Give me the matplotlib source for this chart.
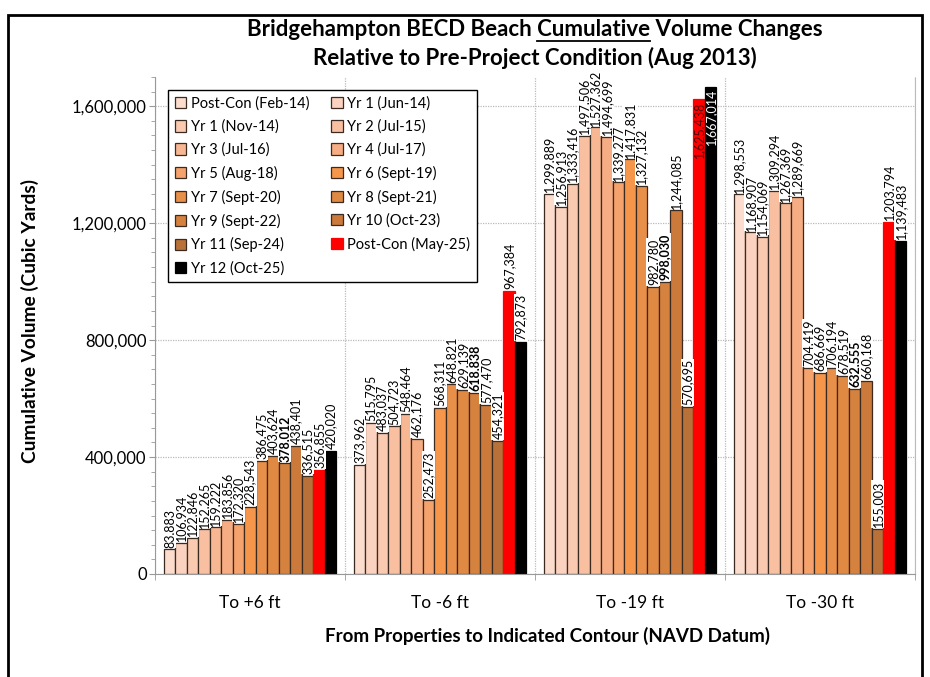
import numpy as np
import matplotlib.pyplot as plt
from matplotlib.patches import Rectangle
from matplotlib.ticker import FuncFormatter, MultipleLocator

plt.rcParams["font.family"] = ["Lato", "DejaVu Sans"]

groups = ["To +6 ft", "To -6 ft", "To -19 ft", "To -30 ft"]
surveys = [
    "Post-Con (Feb-14)", "Yr 1 (Jun-14)", "Yr 1 (Nov-14)", "Yr 2 (Jul-15)",
    "Yr 3 (Jul-16)", "Yr 4 (Jul-17)", "Yr 5 (Aug-18)", "Yr 6 (Sept-19)",
    "Yr 7 (Sept-20)", "Yr 8 (Sept-21)", "Yr 9 (Sept-22)", "Yr 10 (Oct-23)",
    "Yr 11 (Sep-24)", "Post-Con (May-25)", "Yr 12 (Oct-25)",
]
colors = [
    "#fbdccd", "#fad2bf", "#f9c9b0", "#f8c0a1", "#f7b793", "#f6ad83",
    "#f5a26c", "#f5964a", "#e88f49", "#e08943", "#d6823f", "#cb7a3b",
    "#b9713a", "#ff0000", "#000000",
]

to_plus6 = [83883, 106934, 122846, 152265, 159222, 183856, 172320, 228543,
            386475, 403624, 378012, 438401, 336515, 356855, 420020]
to_minus6 = [373962, 515795, 483037, 504723, 548464, 462176, 252473, 568311,
             648821, 629139, 618838, 577470, 454321, 967384, 792873]
to_minus19 = [1299889, 1256913, 1333416, 1497506, 1527362, 1494699, 1339277,
              1417831, 1327132, 982780, 998030, 1244085, 570695, 1625438,
              1667014]
to_minus30 = [1298553, 1168907, 1154069, 1309294, 1267369, 1289669, 704419,
              686669, 706194, 678519, 632555, 660168, 155003, 1203794,
              1139483]

values = np.array([to_plus6, to_minus6, to_minus19, to_minus30])
bold_series = 10

fig = plt.figure(figsize=(9.3, 6.77), dpi=100)
ax = fig.add_axes([155 / 930, 1 - 574 / 677, 760 / 930, 497 / 677])

n = len(surveys)
width = 0.91 / n
x = np.arange(len(groups))
handles = []
for i in range(n):
    pos = x - 0.455 + width * (i + 0.5)
    edge = "#3a2a20" if i < 13 else colors[i]
    bars = ax.bar(pos, values[:, i], width=width, color=colors[i],
                  edgecolor=edge, linewidth=0.9, label=surveys[i], zorder=2)
    handles.append(bars)
    for j, (px, v) in enumerate(zip(pos, values[:, i])):
        txt = f"{v:,}"
        weight = "bold" if i == bold_series else "normal"
        if v > 1_600_000:
            tc = "white" if i == 14 else "#5a0000"
            ax.text(px, v - 8000, txt, rotation=90, ha="center", va="top",
                    fontsize=9, color=tc, zorder=4)
        else:
            ax.text(px, v + 6000, txt, rotation=90, ha="center", va="bottom",
                    fontsize=9, fontweight=weight, zorder=4,
                    bbox=dict(boxstyle="square,pad=0.05", fc="white",
                              ec="none"))

ax.set_xlim(-0.5, 3.5)
ax.set_ylim(0, 1_700_000)
ax.set_xticks(x)
ax.set_xticklabels(groups, fontsize=12.5)
ax.set_xticks(np.arange(-0.5, 3.6, 1), minor=True)
ax.yaxis.set_major_locator(MultipleLocator(400_000))
ax.yaxis.set_minor_locator(MultipleLocator(50_000))
ax.yaxis.set_major_formatter(FuncFormatter(lambda v, p: f"{int(v):,}"))
ax.tick_params(axis="y", labelsize=12, length=4, color="#999999", pad=2)
ax.tick_params(axis="y", which="minor", length=3, color="#999999")
ax.tick_params(axis="x", length=0, pad=15)
ax.tick_params(axis="x", which="minor", length=4, color="#999999")

ax.grid(axis="y", which="major", linestyle=(0, (1, 1)), color="#bbbbbb",
        linewidth=0.9, zorder=0)
ax.grid(axis="x", which="minor", linestyle=(0, (1, 1)), color="#bbbbbb",
        linewidth=0.9, zorder=0)
ax.set_axisbelow(True)
ax.spines["top"].set_visible(False)
ax.spines["right"].set_color("#bbbbbb")
ax.spines["right"].set_linestyle((0, (1, 1)))
ax.spines["left"].set_color("#999999")
ax.spines["bottom"].set_color("#999999")

ax.set_ylabel("Cumulative Volume (Cubic Yards)", fontsize=13.8,
              fontweight="bold")
ax.yaxis.set_label_coords(-(155 - 39) / 760, 0.51)
ax.set_xlabel("From Properties to Indicated Contour (NAVD Datum)",
              fontsize=13.5, fontweight="bold")
ax.xaxis.set_label_coords((547 - 155) / 760, -(627 - 574) / 497)

order = list(range(0, n, 2)) + list(range(1, n, 2))
leg = ax.legend([handles[k] for k in order], [surveys[k] for k in order],
                ncol=2, loc="upper left",
                bbox_to_anchor=(168 / 930, 1 - 90 / 677),
                bbox_transform=fig.transFigure, fontsize=10.5,
                fancybox=False, framealpha=1, edgecolor="black",
                handlelength=0.8, handleheight=0.8, handletextpad=0.3,
                columnspacing=1.5, labelspacing=0.6, borderpad=0.45,
                borderaxespad=0)
leg.get_frame().set_linewidth(1.0)
leg.set_zorder(5)

# title with underlined word
title_size = 16
title_kw = dict(fontsize=title_size, fontweight="bold", ha="center",
                va="center")
line1 = "Bridgehampton BECD Beach Cumulative Volume Changes"
t1 = fig.text(535 / 930, 1 - 29 / 677, line1, **title_kw)
fig.text(535 / 930, 1 - 58 / 677, "Relative to Pre-Project Condition (Aug 2013)",
         **title_kw)
renderer = fig.canvas.get_renderer()
bb = t1.get_window_extent(renderer)


def text_width(s):
    tmp = fig.text(0, 0, s, fontsize=title_size, fontweight="bold")
    w = tmp.get_window_extent(renderer).width
    tmp.remove()
    return w


w_upto = text_width("Bridgehampton BECD Beach Cumulative")
w_word = text_width("Cumulative")
x_end = bb.x0 + w_upto
x_start = x_end - w_word
y_line = bb.y0 - 1
fig.add_artist(plt.Line2D([x_start / fig.bbox.width, x_end / fig.bbox.width],
                          [y_line / fig.bbox.height] * 2, color="black",
                          linewidth=1.3))

fig.add_artist(Rectangle((8 / 930, -0.01), 914 / 930, 1 - 15 / 677 + 0.01,
                         transform=fig.transFigure, fill=False,
                         edgecolor="black", linewidth=2))

fig.savefig("out.png", dpi=100)
